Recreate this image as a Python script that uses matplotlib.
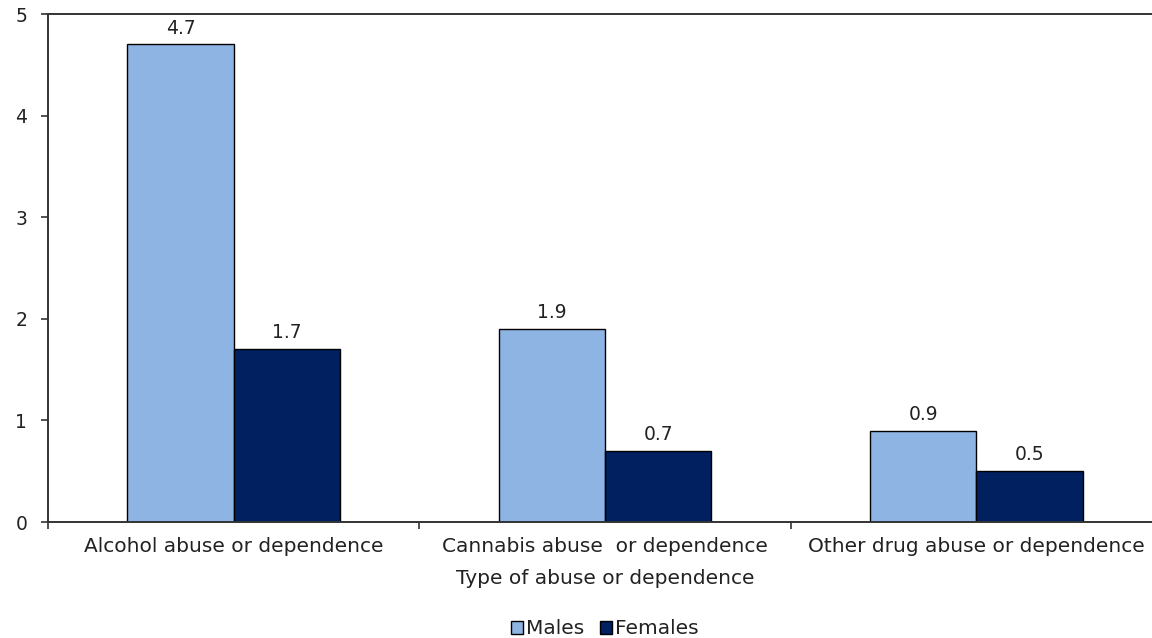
import numpy as np
import matplotlib
matplotlib.use('Agg')
import matplotlib.pyplot as plt
from matplotlib.patches import Patch

categories = ['Alcohol abuse or dependence', 'Cannabis abuse  or dependence', 'Other drug abuse or dependence']
males = [4.7, 1.9, 0.9]
females = [1.7, 0.7, 0.5]
yticks = [0, 1, 2, 3, 4, 5]

MALE_COLOR = '#8EB4E3'
FEMALE_COLOR = '#002060'
TEXT_COLOR = '#222222'

plt.rcParams['font.family'] = 'DejaVu Sans'

W, H = 1152, 638
fig = plt.figure(figsize=(W / 100, H / 100), dpi=100)
ax = fig.add_axes([48 / W, 116 / H, (1162 - 48) / W, (522 - 14) / H])

x = np.arange(len(categories))
width = 0.286
b1 = ax.bar(x - width / 2, males, width, color=MALE_COLOR, edgecolor='black', linewidth=1.0, label='Males')
b2 = ax.bar(x + width / 2, females, width, color=FEMALE_COLOR, edgecolor='black', linewidth=1.0, label='Females')

for bars in (b1, b2):
    for b in bars:
        ax.annotate('%.1f' % b.get_height(), (b.get_x() + b.get_width() / 2, b.get_height()),
                    xytext=(0, 5), textcoords='offset points', ha='center', va='bottom',
                    fontsize=13.5, color=TEXT_COLOR)

ax.set_xlim(-0.5, len(categories) - 0.5)
ax.set_ylim(0, 5)
ax.set_yticks(yticks)
ax.set_xticks(np.arange(len(categories) + 1) - 0.5)
ax.set_xticklabels([])
ax.set_xticks(x, minor=True)
ax.set_xticklabels(categories, minor=True, fontsize=14.5, color=TEXT_COLOR)
ax.tick_params(axis='x', which='minor', length=0, pad=11)
ax.tick_params(axis='x', which='major', length=5, width=1.2, color='#333333')
ax.tick_params(axis='y', length=5, width=1.2, color='#333333', labelsize=13.5, labelcolor=TEXT_COLOR, pad=10)

for s in ('left', 'bottom', 'top'):
    ax.spines[s].set_linewidth(1.4)
    ax.spines[s].set_color('#333333')
ax.spines['right'].set_visible(False)

ax.set_xlabel('Type of abuse or dependence', fontsize=14.5, color=TEXT_COLOR, labelpad=9)

handles = [Patch(facecolor=MALE_COLOR, edgecolor='black', label='Males'),
           Patch(facecolor=FEMALE_COLOR, edgecolor='black', label='Females')]
fig.legend(handles=handles, loc='center', bbox_to_anchor=(605 / W, 1 - 629 / H), ncol=2,
           frameon=False, fontsize=14.5, handlelength=0.6, handleheight=0.6, handletextpad=0.15,
           columnspacing=0.8, labelcolor=TEXT_COLOR)

fig.savefig('out.png', dpi=100)
